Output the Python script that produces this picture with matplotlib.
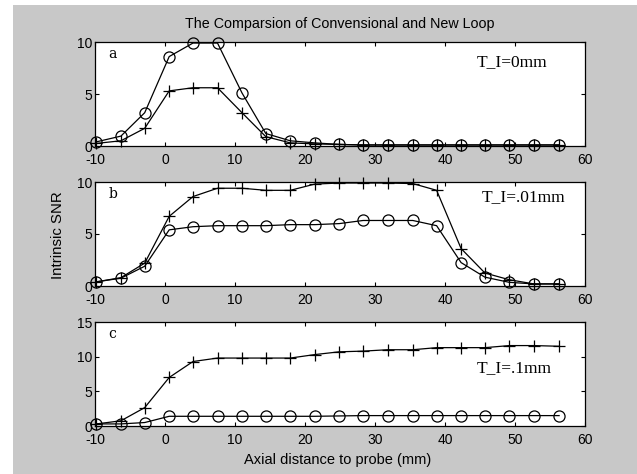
import matplotlib
matplotlib.use('Agg')
import matplotlib.pyplot as plt
from matplotlib.patches import Rectangle

plt.rcParams['font.family'] = ['Liberation Sans', 'DejaVu Sans']
plt.rcParams['axes.unicode_minus'] = False

# axial positions (mm)
dist = [-9.8, -6.3, -2.9, 0.6, 4.0, 7.5, 11.0, 14.4, 17.9, 21.4,
        24.9, 28.3, 31.8, 35.4, 38.8, 42.3, 45.7, 49.2, 52.7, 56.3]

# panel a: T_I = 0mm
a_circ = [0.4, 0.95, 3.2, 8.6, 9.9, 9.9, 5.1, 1.2, 0.5, 0.3,
          0.15, 0.1, 0.1, 0.1, 0.1, 0.1, 0.1, 0.1, 0.1, 0.1]
a_plus = [0.25, 0.5, 1.7, 5.3, 5.6, 5.6, 3.2, 0.9, 0.3, 0.2,
          0.15, 0.1, 0.1, 0.1, 0.1, 0.1, 0.1, 0.1, 0.1, 0.1]

# panel b: T_I = .01mm
b_circ = [0.4, 0.75, 1.9, 5.4, 5.7, 5.8, 5.8, 5.8, 5.9, 5.9,
          6.0, 6.3, 6.3, 6.3, 5.8, 2.25, 0.85, 0.35, 0.2, 0.2]
b_plus = [0.4, 0.8, 2.2, 6.7, 8.6, 9.4, 9.4, 9.2, 9.2, 9.8,
          9.9, 9.9, 9.9, 9.85, 9.2, 3.6, 1.25, 0.6, 0.2, 0.2]

# panel c: T_I = .1mm
c_circ = [0.3, 0.3, 0.5, 1.4, 1.4, 1.4, 1.4, 1.4, 1.4, 1.4,
          1.45, 1.5, 1.5, 1.5, 1.5, 1.5, 1.5, 1.5, 1.5, 1.5]
c_plus = [0.3, 0.75, 2.65, 7.0, 9.3, 9.8, 9.8, 9.8, 9.8, 10.3,
          10.7, 10.8, 11.0, 11.0, 11.3, 11.3, 11.3, 11.6, 11.6, 11.5]

panels = [
    ('a', a_circ, a_plus, 'T_I=0mm', [0, 5, 10], 10, (477, 62)),
    ('b', b_circ, b_plus, 'T_I=.01mm', [0, 5, 10], 10, (482, 197)),
    ('c', c_circ, c_plus, 'T_I=.1mm', [0, 5, 10, 15], 15, (477, 368)),
]

W, H = 637, 474
fig = plt.figure(figsize=(W / 100, H / 100), dpi=100, facecolor='white')
fig.patches.append(Rectangle((13 / W, 0), 1 - 13 / W, 1 - 5 / H,
                             transform=fig.transFigure, facecolor='#c8c8c8',
                             edgecolor='none', zorder=-10))

left, right = 95, 585
tops = [42, 182, 322]
height = 104

for (lab, circ, plus, note, yt, ymax, npos), top in zip(panels, tops):
    ax = fig.add_axes([left / W, 1 - (top + height) / H, (right - left) / W, height / H])
    ax.plot(dist, circ, '-', color='black', lw=0.9, marker='o', ms=8,
            mfc='none', mec='black', mew=0.9, clip_on=False)
    ax.plot(dist, plus, '-', color='black', lw=0.9, marker='+', ms=9, mew=0.9,
            clip_on=False)
    ax.set_xlim(-10, 60)
    ax.set_ylim(0, ymax)
    ax.set_xticks([-10, 0, 10, 20, 30, 40, 50, 60])
    ax.set_yticks(yt)
    ax.tick_params(direction='in', top=True, right=True, length=3, width=0.8,
                   labelsize=10, colors='black')
    ax.tick_params(axis='x', pad=5)
    ax.tick_params(axis='y', pad=2)
    for sp in ax.spines.values():
        sp.set_linewidth(0.9)
    ax.text(0.027, 0.88, lab, transform=ax.transAxes, fontsize=10,
            family='DejaVu Serif', va='center', ha='left')
    fig.text(npos[0] / W, 1 - npos[1] / H, note, fontsize=12.5,
             family='Liberation Serif', va='center', ha='left')

fig.text(340 / W, 1 - 24 / H, 'The Comparsion of Convensional and New Loop',
         ha='center', va='center', fontsize=10.3)
fig.text(58 / W, 1 - 235 / H, 'Intrinsic SNR', rotation=90,
         ha='center', va='center', fontsize=10.8)
fig.text(338 / W, 1 - 460 / H, 'Axial distance to probe (mm)',
         ha='center', va='center', fontsize=10.5)

fig.savefig('out.png', dpi=100, facecolor=fig.get_facecolor())
